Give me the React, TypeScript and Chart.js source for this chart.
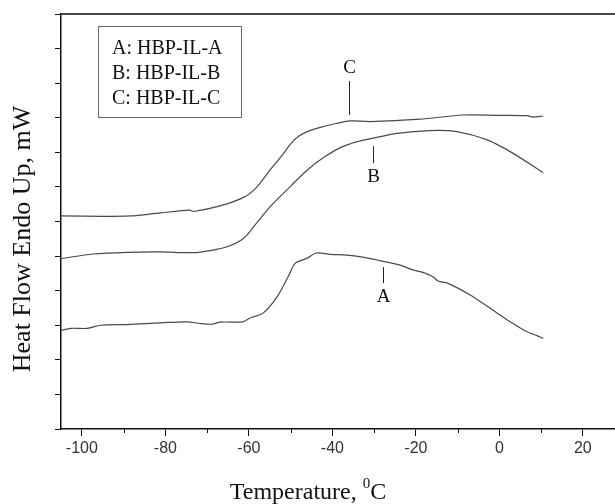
import React, { useEffect, useRef } from "react";
import { Chart, registerables } from "chart.js";

Chart.register(...registerables);

// ---- data (temperature in °C, heat flow in arbitrary units) ----
const tempA = [-104.9, -102.7, -98.7, -95.6, -89.2, -81.2, -74.8, -71.7, -68.8, -66.9, -61.4, -59.7, -56.6, -53.2, -50.6, -48.9, -46.0, -43.9, -40.5, -36.5, -32.7, -28.6, -23.8, -20.7, -18.3, -15.9, -14.7, -12.3, -7.1, -2.2, 2.6, 6.6, 9.0, 10.5];
const heatA = [2.85, 2.91, 2.91, 3.0, 3.02, 3.07, 3.1, 3.05, 3.03, 3.09, 3.1, 3.21, 3.35, 3.83, 4.4, 4.79, 4.94, 5.09, 5.05, 5.03, 4.97, 4.87, 4.74, 4.6, 4.53, 4.4, 4.28, 4.21, 3.88, 3.49, 3.1, 2.81, 2.7, 2.62];

const tempB = [-104.9, -97.3, -89.2, -81.2, -73.3, -69.3, -65.2, -61.3, -58.5, -54.9, -50.1, -46.0, -42.2, -38.2, -34.1, -31.0, -24.5, -16.6, -10.2, -2.9, 3.3, 10.5];
const heatB = [4.93, 5.06, 5.11, 5.12, 5.1, 5.16, 5.27, 5.51, 5.9, 6.43, 7.01, 7.49, 7.84, 8.13, 8.31, 8.39, 8.55, 8.63, 8.6, 8.36, 7.97, 7.41];

const tempC = [-104.9, -94.9, -88.4, -81.2, -74.1, -73.3, -66.9, -60.9, -58.0, -54.9, -52.0, -49.9, -48.0, -46.0, -42.9, -38.9, -35.7, -31.0, -19.0, -8.7, 0.2, 6.6, 8.1, 10.5];
const heatC = [6.16, 6.15, 6.16, 6.25, 6.33, 6.29, 6.45, 6.72, 7.01, 7.49, 7.92, 8.26, 8.47, 8.6, 8.72, 8.84, 8.91, 8.89, 8.96, 9.08, 9.07, 9.06, 9.02, 9.05];

const legendLabels = ["A: HBP-IL-A", "B: HBP-IL-B", "C: HBP-IL-C"];
const xTickValues = [-100, -80, -60, -40, -20, 0, 20];
const xMinorTicks = [-90, -70, -50, -30, -10, 10];

// annotation markers: label, x, line y start, line y end, label y
const annoLabels = ["C", "B", "A"];
const annoX = [-36.0, -30.2, -27.8];
const annoY1 = [9.08, 8.18, 4.68];
const annoY2 = [10.06, 7.69, 4.22];
const annoLabelY = [10.44, 7.29, 3.82];

const LINE_COLOR = "#4a4a4a";

const decorPlugin = {
  id: "decor",
  afterDraw(chart: any) {
    const { ctx, chartArea } = chart;
    const xs = chart.scales.x;
    const ys = chart.scales.y;
    ctx.save();
    // top frame line
    ctx.strokeStyle = "#111";
    ctx.lineWidth = 1.5;
    ctx.beginPath();
    ctx.moveTo(chartArea.left, chartArea.top);
    ctx.lineTo(chartArea.right, chartArea.top);
    ctx.stroke();
    // minor x ticks
    ctx.lineWidth = 1;
    ctx.beginPath();
    for (const v of xMinorTicks) {
      const px = Math.round(xs.getPixelForValue(v)) + 0.5;
      ctx.moveTo(px, chartArea.bottom);
      ctx.lineTo(px, chartArea.bottom + 4);
    }
    ctx.stroke();

    // legend box
    ctx.strokeStyle = "#666";
    ctx.lineWidth = 1;
    ctx.strokeRect(98.5, 26.5, 143, 91);
    ctx.fillStyle = "#111";
    ctx.font = '20px "Liberation Serif"';
    ctx.textBaseline = "alphabetic";
    ctx.textAlign = "left";
    legendLabels.forEach((t, i) => {
      ctx.fillText(t, 112, 54 + i * 25);
    });

    // annotations
    ctx.strokeStyle = "#222";
    ctx.lineWidth = 1;
    ctx.font = '19px "Liberation Serif"';
    ctx.textAlign = "center";
    ctx.textBaseline = "middle";
    annoLabels.forEach((lab, i) => {
      const px = Math.round(xs.getPixelForValue(annoX[i])) + 0.5;
      ctx.beginPath();
      ctx.moveTo(px, ys.getPixelForValue(annoY1[i]));
      ctx.lineTo(px, ys.getPixelForValue(annoY2[i]));
      ctx.stroke();
      ctx.fillText(lab, px, ys.getPixelForValue(annoLabelY[i]));
    });

    // x title
    ctx.textAlign = "left";
    ctx.textBaseline = "alphabetic";
    ctx.font = '24px "Liberation Serif"';
    const main = "Temperature, ";
    const w1 = ctx.measureText(main).width;
    ctx.font = '15px "Liberation Serif"';
    const w2 = ctx.measureText("0").width;
    ctx.font = '24px "Liberation Serif"';
    const w3 = ctx.measureText("C").width;
    const total = w1 + w2 + w3;
    const cx = 308;
    const x0 = cx - total / 2;
    const base = 499;
    ctx.fillText(main, x0, base);
    ctx.font = '15px "Liberation Serif"';
    ctx.fillText("0", x0 + w1, base - 11);
    ctx.font = '24px "Liberation Serif"';
    ctx.fillText("C", x0 + w1 + w2, base);

    // y title
    ctx.save();
    ctx.translate(30, 239);
    ctx.rotate(-Math.PI / 2);
    ctx.textAlign = "center";
    ctx.textBaseline = "alphabetic";
    ctx.font = '26px "Liberation Serif"';
    ctx.fillText("Heat Flow Endo Up, mW", 0, 0);
    ctx.restore();

    ctx.restore();
  },
};

export default function App() {
  const ref = useRef<HTMLCanvasElement | null>(null);
  useEffect(() => {
    if (!ref.current) return;
    const mk = (xs: number[], ys: number[]) => xs.map((x, i) => ({ x, y: ys[i] }));
    const common = {
      borderColor: LINE_COLOR,
      borderWidth: 1.2,
      pointRadius: 0,
      fill: false,
      tension: 0.3,
    };
    const chart = new Chart(ref.current, {
      type: "line",
      data: {
        datasets: [
          { label: "A", data: mk(tempA, heatA), ...common },
          { label: "B", data: mk(tempB, heatB), ...common },
          { label: "C", data: mk(tempC, heatC), ...common },
        ],
      },
      options: {
        animation: false,
        responsive: false,
        maintainAspectRatio: false,
        layout: { padding: { top: 14, left: 0, right: 0, bottom: 0 } },
        plugins: { legend: { display: false }, tooltip: { enabled: false } },
        scales: {
          x: {
            type: "linear",
            min: -105,
            max: 27.7,
            afterFit: (s: any) => {
              s.height = 75;
            },
            afterBuildTicks: (s: any) => {
              s.ticks = xTickValues.map((v) => ({ value: v }));
            },
            ticks: {
              color: "#333",
              font: { family: "Liberation Sans", size: 16 },
              padding: 3,
              maxRotation: 0,
              autoSkip: false,
              callback: (v: any) => String(v),
            },
            grid: {
              drawOnChartArea: false,
              drawTicks: true,
              tickLength: 7,
              tickColor: "#111",
              tickWidth: 1,
            },
            border: { display: true, color: "#111", width: 1.5 },
          },
          y: {
            type: "linear",
            min: 0,
            max: 12,
            afterFit: (s: any) => {
              s.width = 61;
            },
            ticks: { display: false, stepSize: 1 },
            grid: {
              drawOnChartArea: false,
              drawTicks: true,
              tickLength: 6,
              tickColor: "#111",
              tickWidth: 1,
            },
            border: { display: true, color: "#111", width: 1.5 },
          },
        },
      },
      plugins: [decorPlugin],
    });
    return () => chart.destroy();
  }, []);
  return (
    <div style={{ position: "fixed", left: 0, top: 0, width: 615, height: 504, background: "#fff" }}>
      <canvas ref={ref} width={615} height={504} />
    </div>
  );
}
